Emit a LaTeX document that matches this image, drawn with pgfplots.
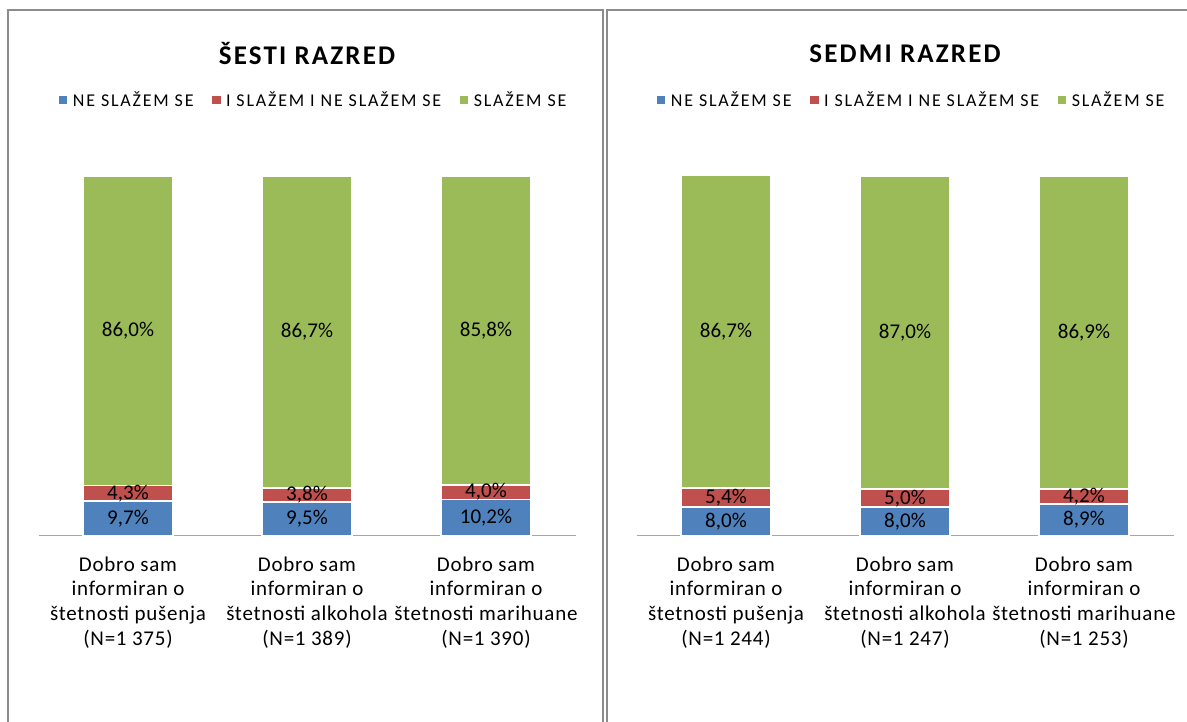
\documentclass[border=0pt]{standalone}
\usepackage{fontspec}
\setmainfont{Carlito}
\newfontfamily\titlefont{Carlito}[LetterSpace=8]
\newfontfamily\legfont{Carlito}[LetterSpace=10]
\newfontfamily\tickfont{Carlito}[LetterSpace=3.5]
\usepackage{pgfplots}
\usepackage{pgfplotstable}
\pgfplotsset{compat=1.18}
\definecolor{cblue}{RGB}{79,129,189}
\definecolor{cred}{RGB}{192,80,77}
\definecolor{cgreen}{RGB}{155,187,89}
\definecolor{frame}{RGB}{140,140,140}
\definecolor{axl}{RGB}{165,165,165}

\pgfplotstableread{
x ne izm sl
0 9.7 4.3 86.0
1 9.5 3.8 86.7
2 10.2 4.0 85.8
}\sesti
\pgfplotstableread{
x ne izm sl
0 8.0 5.4 86.7
1 8.0 5.0 87.0
2 8.9 4.2 86.9
}\sedmi

\pgfplotsset{
 panel/.style={
  ybar stacked, scale only axis, width=537pt, height=360pt,
  xmin=-0.5, xmax=2.5, ymin=0, ymax=100,
  bar width=90pt,
  axis y line=none, axis x line*=bottom,
  x axis line style={draw=axl, line width=1pt, -},
  xtick={0,1,2}, major tick length=0pt,
  xticklabel style={align=center, font=\tickfont\fontsize{21}{24.8}\selectfont, yshift=-17pt},
  point meta=explicit,
  /pgf/number format/assume math mode=true,
  nodes near coords={\pgfmathprintnumber[fixed,fixed zerofill,precision=1,use comma,assume math mode=true]{\pgfplotspointmeta}\%},
  every node near coord/.append style={anchor=center, font=\fontsize{21}{23}\selectfont, text=black},
  legend style={draw=none, at={(0.511,1.211)}, anchor=center, legend columns=3, font=\legfont\fontsize{18}{20}\selectfont,
    /tikz/every even column/.append style={column sep=15pt},
    /tikz/every odd column/.append style={column sep=2pt}},
  legend image code/.code={\fill[##1] (0pt,-5pt) rectangle (10pt,5pt);},
  title style={at={(0.5,1.323)}, anchor=center, font=\titlefont\fontsize{27}{30}\selectfont\bfseries},
  every axis plot/.append style={draw=white, line width=1.5pt},
  clip=false,
 }
}

\begin{document}
\begin{tikzpicture}[x=1pt,y=1pt]
\useasboundingbox (0,0) rectangle (1187,722);
\draw[frame, line width=2.5pt] (8,-5) -- (8,712) -- (603,712) -- (603,-5);
\draw[frame, line width=2.5pt] (607,-5) -- (607,712) -- (1195,712);

\begin{axis}[panel, at={(38.5pt,186pt)}, anchor=south west,
  title={ŠESTI RAZRED},
  xticklabels={{Dobro sam\\informiran o\\štetnosti pušenja\\(N=1 375)},{Dobro sam\\informiran o\\štetnosti alkohola\\(N=1 389)},{Dobro sam\\informiran o\\štetnosti marihuane\\(N=1 390)}}]
\addplot[fill=cblue] table[x=x, y=ne, meta=ne]{\sesti};
\addlegendentry{NE SLAŽEM SE}
\addplot[fill=cred] table[x=x, y=izm, meta=izm]{\sesti};
\addlegendentry{I SLAŽEM I NE SLAŽEM SE}
\addplot[fill=cgreen] table[x=x, y=sl, meta=sl]{\sesti};
\addlegendentry{SLAŽEM SE}
\end{axis}

\begin{axis}[panel, at={(636.5pt,186pt)}, anchor=south west,
  title={SEDMI RAZRED},
  xticklabels={{Dobro sam\\informiran o\\štetnosti pušenja\\(N=1 244)},{Dobro sam\\informiran o\\štetnosti alkohola\\(N=1 247)},{Dobro sam\\informiran o\\štetnosti marihuane\\(N=1 253)}}]
\addplot[fill=cblue] table[x=x, y=ne, meta=ne]{\sedmi};
\addlegendentry{NE SLAŽEM SE}
\addplot[fill=cred] table[x=x, y=izm, meta=izm]{\sedmi};
\addlegendentry{I SLAŽEM I NE SLAŽEM SE}
\addplot[fill=cgreen] table[x=x, y=sl, meta=sl]{\sedmi};
\addlegendentry{SLAŽEM SE}
\end{axis}
\end{tikzpicture}
\end{document}
